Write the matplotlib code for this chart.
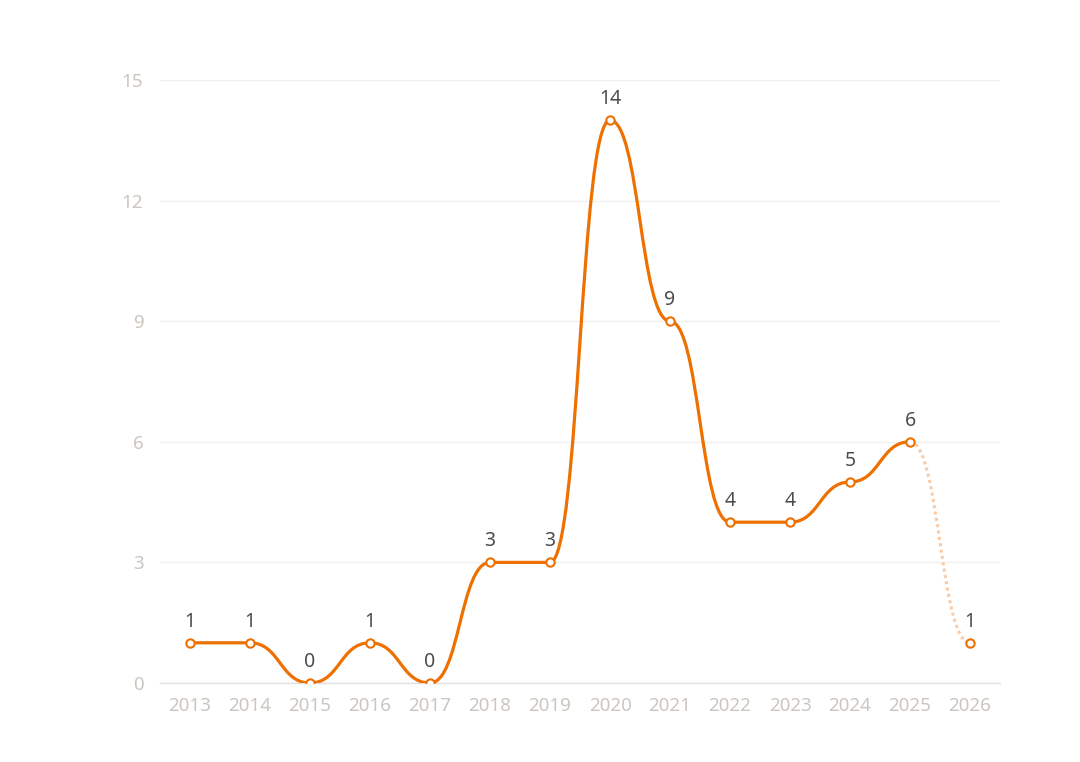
import numpy as np
import matplotlib
matplotlib.use("Agg")
import matplotlib.pyplot as plt
from matplotlib.path import Path
from matplotlib.patches import PathPatch

years = [2013, 2014, 2015, 2016, 2017, 2018, 2019, 2020, 2021, 2022, 2023, 2024, 2025, 2026]
values = [1, 1, 0, 1, 0, 3, 3, 14, 9, 4, 4, 5, 6, 1]
solid_end = 2025  # last year drawn with the solid line; after it dotted
y_ticks = [0, 3, 6, 9, 12, 15]

ORANGE = "#EE7000"
LIGHT = "#F9CBA5"
plt.rcParams['font.family'] = ['Noto Sans', 'DejaVu Sans']

fig = plt.figure(figsize=(10.8, 7.62), dpi=100)
ax = fig.add_axes([160 / 1080, 1 - 683 / 762, 840 / 1080, (683 - 80) / 762])

xs = np.arange(len(years), dtype=float)
ax.set_xlim(-0.5, len(years) - 0.5)
ax.set_ylim(0, 15)


def monotone_x_path(px, py, smooth=0.5):
    """Smooth line with horizontal tangents at each point (x-monotone bezier)."""
    verts = [(px[0], py[0])]
    codes = [Path.MOVETO]
    for i in range(1, len(px)):
        h = px[i] - px[i - 1]
        verts += [(px[i - 1] + smooth * h, py[i - 1]),
                  (px[i] - smooth * h, py[i]),
                  (px[i], py[i])]
        codes += [Path.CURVE4] * 3
    return Path(verts, codes)


k = years.index(solid_end)
solid_path = monotone_x_path(xs[:k + 1], values[:k + 1])
ax.add_patch(PathPatch(solid_path, fill=False, edgecolor=ORANGE, lw=2.3,
                       capstyle='round', joinstyle='round', zorder=3))

dot_path = monotone_x_path(xs[k:], values[k:])
ax.add_patch(PathPatch(dot_path, fill=False, edgecolor=LIGHT, lw=2.2,
                       linestyle=(0, (1, 1.1)), zorder=2))

ax.plot(xs, values, linestyle='none', marker='o', markersize=6,
        markerfacecolor='white', markeredgecolor=ORANGE, markeredgewidth=1.5, zorder=4)

for xi, v in zip(xs, values):
    ax.annotate(str(v), (xi, v), xytext=(0, 8), textcoords='offset points',
                ha='center', va='bottom', fontsize=14, color='#4D4D4D', zorder=5)

ax.set_yticks(y_ticks)
ax.set_yticklabels([str(t) for t in y_ticks])
ax.set_xticks(xs)
ax.set_xticklabels([str(y) for y in years])
ax.grid(axis='y', color='#F0F0F0', lw=1.0, zorder=0)
ax.set_axisbelow(True)
for s in ['top', 'right', 'left']:
    ax.spines[s].set_visible(False)
ax.spines['bottom'].set_color('#E0E0E0')
ax.spines['bottom'].set_linewidth(1.0)
ax.tick_params(axis='both', length=0, labelsize=13.5, colors='#CCC6C0')
ax.tick_params(axis='x', pad=10)
ax.tick_params(axis='y', pad=12)

fig.savefig("out.png", dpi=100, facecolor='white')
